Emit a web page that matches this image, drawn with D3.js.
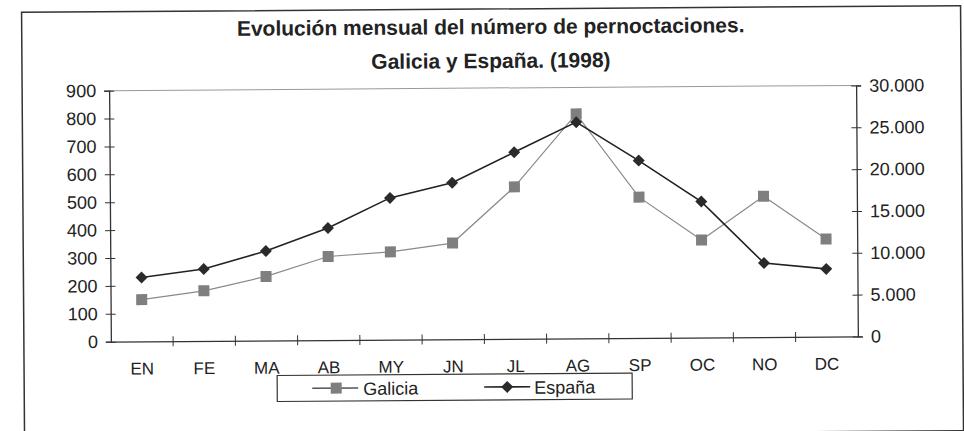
<!DOCTYPE html>
<html>
<head>
<meta charset="utf-8">
<script src="https://cdn.jsdelivr.net/npm/d3@7"></script>
<style>
  body { margin: 0; background: #fff; }
  text { font-family: "Liberation Sans", Arial, sans-serif; fill: #222; }
</style>
</head>
<body>
<div id="chart"></div>
<script>
// datos
const meses = ["EN", "FE", "MA", "AB", "MY", "JN", "JL", "AG", "SP", "OC", "NO", "DC"];
const galicia = [150, 180, 230, 300, 315, 345, 545, 805, 505, 350, 505, 350];      // eje izq.
const espana = [7650, 8600, 10700, 13400, 16950, 18700, 22300, 25850, 21200, 16250, 8850, 8100]; // eje dcho.
const ticksIzq = [0, 100, 200, 300, 400, 500, 600, 700, 800, 900];
const ticksDer = [0, 5000, 10000, 15000, 20000, 25000, 30000];

const W = 964, H = 431;
const margin = { top: 88, right: 107, bottom: 92, left: 110 };
const width = W - margin.left - margin.right,
      height = H - margin.top - margin.bottom;

const svg = d3.select("#chart").append("svg")
  .attr("width", W)
  .attr("height", H);

// la imagen escaneada está ligeramente girada
const root = svg.append("g").attr("transform", "rotate(-0.4, 492, 215)");

// marco exterior
root.append("rect")
  .attr("x", 23).attr("y", 9)
  .attr("width", 939).attr("height", 425)
  .attr("fill", "none")
  .attr("stroke", "#333")
  .attr("stroke-width", 1.5);

// títulos
root.append("text")
  .attr("x", 492).attr("y", 34)
  .attr("text-anchor", "middle")
  .style("font-size", "21px").style("font-weight", "bold")
  .text("Evolución mensual del número de pernoctaciones.");
root.append("text")
  .attr("x", 492).attr("y", 68)
  .attr("text-anchor", "middle")
  .style("font-size", "21px").style("font-weight", "bold")
  .text("Galicia y España. (1998)");

const g = root.append("g").attr("transform", `translate(${margin.left},${margin.top})`);

const x = d3.scaleBand().domain(meses).range([0, width]);
const yL = d3.scaleLinear().domain([0, 900]).range([height, 0]);
const yR = d3.scaleLinear().domain([0, 30000]).range([height, 0]);

const fmt = d3.formatLocale({ decimal: ",", thousands: ".", grouping: [3], currency: ["", "€"] }).format(",d");

// línea superior
g.append("line")
  .attr("x1", 0).attr("x2", width)
  .attr("y1", 0).attr("y2", 0)
  .attr("stroke", "#999").attr("stroke-width", 1);

// eje izquierdo
const axL = g.append("g")
  .call(d3.axisLeft(yL).tickValues(ticksIzq).tickSize(5).tickPadding(8));
axL.selectAll(".tick line").attr("x2", 5).attr("x1", -5);

// eje derecho
const axR = g.append("g")
  .attr("transform", `translate(${width},0)`)
  .call(d3.axisRight(yR).tickValues(ticksDer).tickFormat(fmt).tickSize(5).tickPadding(8));
axR.selectAll(".tick line").attr("x1", -5).attr("x2", 5);

// eje x con marcas entre categorías
const axX = g.append("g")
  .attr("transform", `translate(0,${height})`)
  .call(d3.axisBottom(x).tickSize(0).tickPadding(21));
axX.selectAll(".tick text").style("font-size", "17px");
axX.selectAll(".tick line").remove();
axX.selectAll(".sep")
  .data(meses.slice(1))
  .enter().append("line")
  .attr("x1", d => x(d)).attr("x2", d => x(d))
  .attr("y1", -5).attr("y2", 5)
  .attr("stroke", "#333");

[axL, axR, axX].forEach(a => {
  a.select(".domain").attr("stroke", "#333").attr("stroke-width", 1.3);
  a.selectAll(".tick line").attr("stroke", "#333");
  a.selectAll("text").style("font-family", "'Liberation Sans', Arial, sans-serif").attr("fill", "#222");
});
axL.selectAll("text").style("font-size", "18px");
axR.selectAll("text").style("font-size", "18px");

const cx = d => x(d) + x.bandwidth() / 2;

// Galicia
g.append("path")
  .datum(galicia)
  .attr("fill", "none")
  .attr("stroke", "#8a8a8a")
  .attr("stroke-width", 1.2)
  .attr("d", d3.line().x((d, i) => cx(meses[i])).y(d => yL(d)));
g.selectAll(".sq")
  .data(galicia)
  .enter().append("rect")
  .attr("x", (d, i) => cx(meses[i]) - 5.5)
  .attr("y", d => yL(d) - 5.5)
  .attr("width", 11).attr("height", 11)
  .attr("fill", "#7f7f7f");

// España
g.append("path")
  .datum(espana)
  .attr("fill", "none")
  .attr("stroke", "#222")
  .attr("stroke-width", 1.6)
  .attr("d", d3.line().x((d, i) => cx(meses[i])).y(d => yR(d)));
g.selectAll(".dm")
  .data(espana)
  .enter().append("path")
  .attr("transform", (d, i) => `translate(${cx(meses[i])},${yR(d)})`)
  .attr("d", "M0,-6L6,0L0,6L-6,0Z")
  .attr("fill", "#2a2a2a");

// leyenda
const leg = root.append("g").attr("transform", "translate(276,374)");
leg.append("rect")
  .attr("width", 355).attr("height", 26)
  .attr("fill", "#fff").attr("stroke", "#333").attr("stroke-width", 1.2);
leg.append("line").attr("x1", 35).attr("x2", 81).attr("y1", 13).attr("y2", 13)
  .attr("stroke", "#555").attr("stroke-width", 1.5);
leg.append("rect").attr("x", 53.5).attr("y", 7.5).attr("width", 11).attr("height", 11).attr("fill", "#7f7f7f");
leg.append("text").attr("x", 86).attr("y", 20).style("font-size", "18px").text("Galicia");
leg.append("line").attr("x1", 207).attr("x2", 253).attr("y1", 13).attr("y2", 13)
  .attr("stroke", "#222").attr("stroke-width", 1.6);
leg.append("path").attr("transform", "translate(230,13)").attr("d", "M0,-6L6,0L0,6L-6,0Z").attr("fill", "#2a2a2a");
leg.append("text").attr("x", 257).attr("y", 20).style("font-size", "18px").text("España");
</script>
</body>
</html>
